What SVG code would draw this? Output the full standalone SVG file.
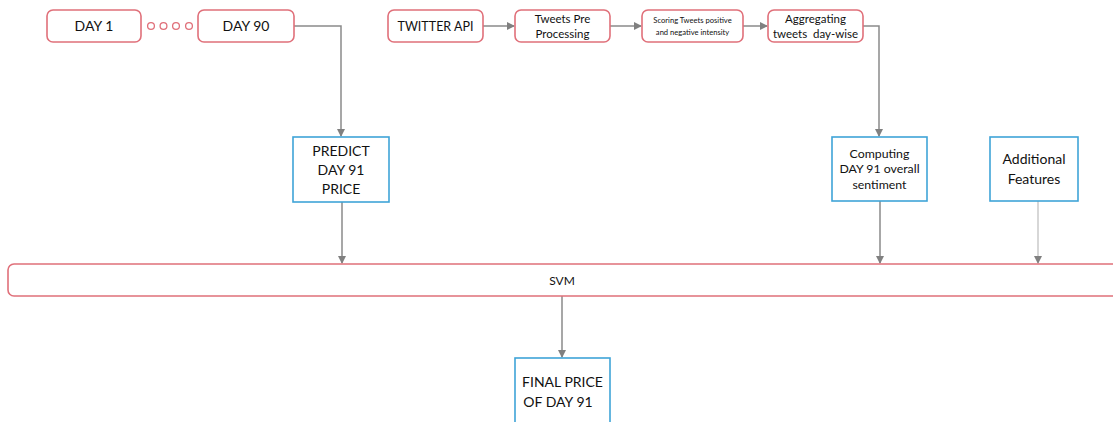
<svg xmlns="http://www.w3.org/2000/svg" width="1113" height="422" viewBox="0 0 1113 422">
<defs>
<marker id="ah" markerWidth="8" markerHeight="8" refX="7" refY="4" orient="auto" markerUnits="userSpaceOnUse">
<path d="M0,0 L8,4 L0,8 Z" fill="#808080"/>
</marker>
<style>
.r{fill:#fff;stroke:#e0707a;stroke-width:1.6}
.b{fill:#fff;stroke:#3fa4d8;stroke-width:1.6}
.c{fill:none;stroke:#8a8a8a;stroke-width:1.5}
.cl{fill:none;stroke:#bdbdbd;stroke-width:1.2}
text{font-family:Lato,"Liberation Sans",sans-serif;fill:#111;text-anchor:middle}
</style>
</defs>
<rect width="1113" height="422" fill="#fff"/>
<g id="connectors">
<path class="c" d="M294,26 H341 V136" marker-end="url(#ah)"/>
<path class="c" d="M483,26 H514" marker-end="url(#ah)"/>
<path class="c" d="M610,26 H641" marker-end="url(#ah)"/>
<path class="c" d="M743,26 H767" marker-end="url(#ah)"/>
<path class="c" d="M863,26 H879 V136" marker-end="url(#ah)"/>
<path class="c" d="M342,202 V263" marker-end="url(#ah)"/>
<path class="c" d="M880,201 V263" marker-end="url(#ah)"/>
<path class="cl" d="M1038,201 V263" marker-end="url(#ah)"/>
<path class="c" d="M562,296 V357" marker-end="url(#ah)"/>
</g>
<g id="day1">
<rect class="r" x="47" y="10" width="94" height="32" rx="6"/>
<text x="94" y="31" font-size="14">DAY 1</text>
</g>
<g id="dots">
<circle cx="151" cy="26" r="3.4" fill="#fff" stroke="#e0707a" stroke-width="1.3"/>
<circle cx="163.5" cy="26" r="3.4" fill="#fff" stroke="#e0707a" stroke-width="1.3"/>
<circle cx="176" cy="26" r="3.4" fill="#fff" stroke="#e0707a" stroke-width="1.3"/>
<circle cx="189" cy="26" r="3.4" fill="#fff" stroke="#e0707a" stroke-width="1.3"/>
</g>
<g id="day90">
<rect class="r" x="198" y="10" width="96" height="32" rx="6"/>
<text x="246" y="31" font-size="14">DAY 90</text>
</g>
<g id="twitter">
<rect class="r" x="388" y="10" width="95" height="32" rx="6"/>
<text x="435.5" y="31" font-size="12.5">TWITTER API</text>
</g>
<g id="preproc">
<rect class="r" x="515" y="10" width="95" height="32" rx="6"/>
<text x="562.5" y="23" font-size="11.5">Tweets Pre</text>
<text x="562.5" y="38" font-size="11.5">Processing</text>
</g>
<g id="scoring">
<rect class="r" x="642" y="10" width="101" height="32" rx="6"/>
<text x="692.5" y="23" font-size="7.6">Scoring Tweets positive</text>
<text x="692.5" y="35" font-size="7.6">and negative intensity</text>
</g>
<g id="aggregating">
<rect class="r" x="768" y="10" width="95" height="32" rx="6"/>
<text x="815.5" y="23" font-size="11.5">Aggregating</text>
<text x="815.5" y="38" font-size="11.5" xml:space="preserve">tweets  day-wise</text>
</g>
<g id="predict">
<rect class="b" x="293" y="137" width="96" height="65"/>
<text x="341" y="156" font-size="14">PREDICT</text>
<text x="341" y="175" font-size="14">DAY 91</text>
<text x="341" y="194" font-size="14">PRICE</text>
</g>
<g id="computing">
<rect class="b" x="832" y="137" width="95" height="64"/>
<text x="879.5" y="158" font-size="12.3">Computing</text>
<text x="879.5" y="173" font-size="12.3">DAY 91 overall</text>
<text x="879.5" y="189" font-size="12.3">sentiment</text>
</g>
<g id="additional">
<rect class="b" x="990" y="137" width="88" height="64"/>
<text x="1034" y="164" font-size="14">Additional</text>
<text x="1034" y="184" font-size="14">Features</text>
</g>
<g id="svm">
<rect class="r" x="8" y="264" width="1120" height="32" rx="6"/>
<text x="562" y="285" font-size="12">SVM</text>
</g>
<g id="final">
<rect class="b" x="515" y="358" width="95" height="80"/>
<text x="562.5" y="387" font-size="14">FINAL PRICE</text>
<text x="558" y="407" font-size="14">OF DAY 91</text>
</g>
</svg>
